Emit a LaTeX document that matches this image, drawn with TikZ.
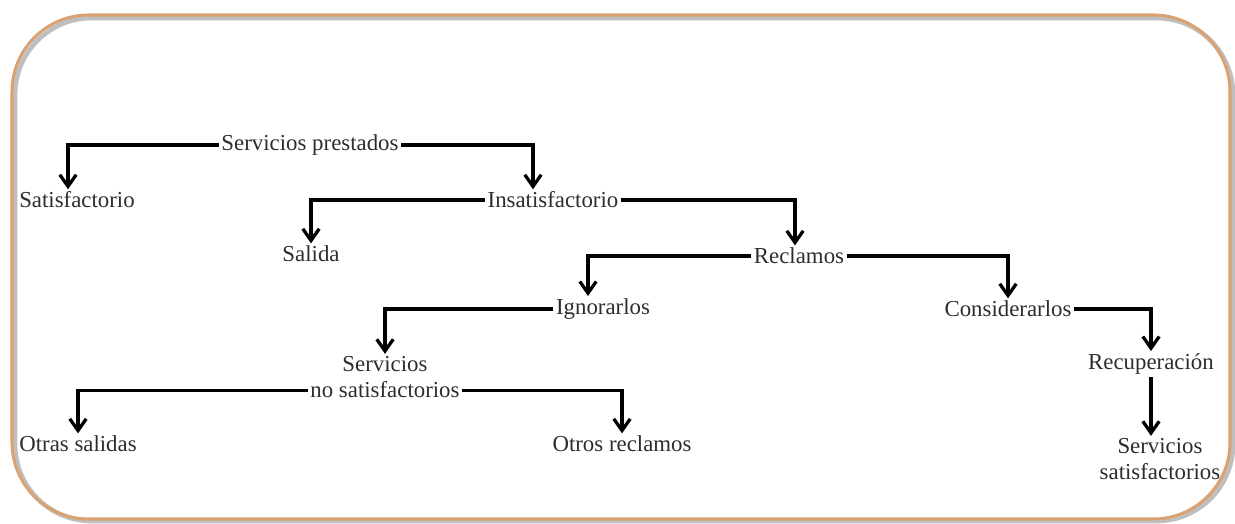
\documentclass[tikz,border=0pt]{standalone}
\usepackage{fontspec}
\setmainfont{Liberation Serif}
\usetikzlibrary{arrows.meta}

\definecolor{framebrown}{RGB}{218,162,112}
\definecolor{textgray}{RGB}{45,45,45}

\tikzset{
    lbl/.style={font=\fontsize{19.5}{22}\selectfont, text=textgray, inner sep=2pt},
    arr/.style={-{Straight Barb[length=10pt,width=14pt]}, line width=2.8pt, black},
}

\begin{document}
\begin{tikzpicture}[x=0.03cm, y=-0.03cm]
    \useasboundingbox (0,0) rectangle (1235,523);

    % Frame with soft shadow
    \draw[line width=4pt, black!25, rounded corners=2.3cm] (15,18) rectangle (1233,521);
    \draw[line width=2.6pt, framebrown, rounded corners=2.3cm] (12,15) rectangle (1230,519);

    % First level
    \node[lbl] (prest) at (310,145) {Servicios prestados};
    \node[lbl] (satisf) at (77,200) {Satisfactorio};
    \node[lbl] (insat) at (553,200) {Insatisfactorio};

    % Second level
    \node[lbl] (salida) at (311,254) {Salida};
    \node[lbl] (reclam) at (799,256) {Reclamos};

    % Third level
    \node[lbl] (ignor) at (603,309) {Ignorarlos};
    \node[lbl] (consid) at (1008,309) {Considerarlos};

    % Fourth level
    \node[lbl, align=center] (nosat) at (385,377) {Servicios\\no satisfactorios};
    \node[lbl] (recup) at (1151,364) {Recuperación};

    % Last level
    \node[lbl] (otsal) at (78,444) {Otras salidas};
    \node[lbl] (otrec) at (622,444) {Otros reclamos};
    \node[lbl, align=center] (sisat) at (1160,459) {Servicios\\satisfactorios};

    % Connectors
    \draw[arr] (prest.west) -| ([xshift=-0.27cm]satisf.north);
    \draw[arr] (prest.east) -| ([xshift=-0.6cm]insat.north);
    \draw[arr] (insat.west) -| (salida.north);
    \draw[arr] (insat.east) -| ([xshift=-0.12cm]reclam.north);
    \draw[arr] (reclam.west) -| ([xshift=-0.45cm]ignor.north);
    \draw[arr] (reclam.east) -| (consid.north);
    \draw[arr] (ignor.west) -| (nosat.north);
    \draw[arr] (consid.east) -| (recup.north);
    \draw[arr] ([yshift=-0.4cm]nosat.west) -| (otsal.north);
    \draw[arr] ([yshift=-0.4cm]nosat.east) -| (otrec.north);
    \draw[arr] (recup.south) -- (recup.south |- sisat.north);

\end{tikzpicture}
\end{document}
